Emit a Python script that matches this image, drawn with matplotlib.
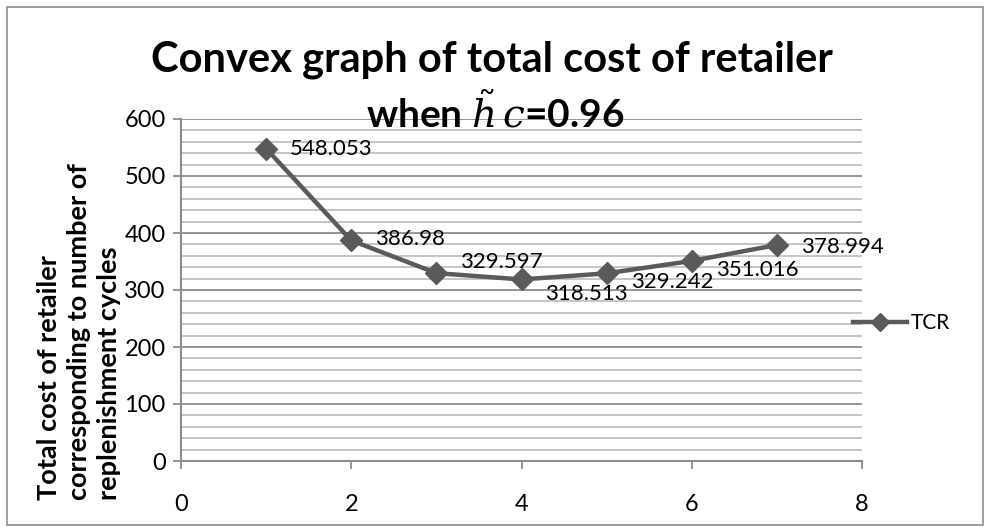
import matplotlib
matplotlib.use("Agg")
import matplotlib.pyplot as plt
from matplotlib.patches import Rectangle
from matplotlib.ticker import MultipleLocator

plt.rcParams['font.family'] = ['Lato', 'DejaVu Sans']
plt.rcParams['mathtext.fontset'] = 'dejavuserif'

cycles = [1, 2, 3, 4, 5, 6, 7]
tcr = [548.053, 386.98, 329.597, 318.513, 329.242, 351.016, 378.994]
labels = ["548.053", "386.98", "329.597", "318.513", "329.242", "351.016", "378.994"]
series_name = "TCR"
title_line1 = "Convex graph of total cost of retailer"
title_line2 = r"when $\tilde{h}\,c$=0.96"
ylabel = "Total cost of retailer\ncorresponding to number of\nreplenishment cycles"

# label offsets in pixels (layout only)
label_offsets = [(24, 0), (24, 1), (24, 11), (24, -15), (24, -9), (24, -9), (24, -2)]

W, H = 985, 527
fig = plt.figure(figsize=(W / 100, H / 100), dpi=100)
fig.patch.set_facecolor('white')
fig.add_artist(Rectangle((7 / W, 2 / H), (W - 9) / W, (H - 9) / H, transform=fig.transFigure,
                         fill=False, edgecolor='#8c8c8c', linewidth=1.2))

ax = fig.add_axes([181 / W, 1 - 461 / H, (862 - 181) / W, (461 - 119) / H])
ax.set_xlim(0, 8)
ax.set_ylim(0, 600)
ax.xaxis.set_major_locator(MultipleLocator(2))
ax.yaxis.set_major_locator(MultipleLocator(100))
ax.yaxis.set_minor_locator(MultipleLocator(20))
ax.grid(which='minor', axis='y', color='#c0c0c0', linewidth=1.3)
ax.grid(which='major', axis='y', color='#8c8c8c', linewidth=1.3)
ax.set_axisbelow(True)
for s in ['top', 'right']:
    ax.spines[s].set_visible(False)
for s in ['left', 'bottom']:
    ax.spines[s].set_color('#8c8c8c')
    ax.spines[s].set_linewidth(1.5)
ax.tick_params(which='major', direction='out', length=6, width=1.3, color='#8c8c8c',
               labelsize=17, labelcolor='black')
ax.tick_params(axis='x', pad=18)
ax.tick_params(axis='y', pad=5)
ax.tick_params(which='minor', length=0)

ax.plot(cycles, tcr, color='#5a5a5a', linewidth=3.2, marker='D', markersize=11,
        markeredgecolor='#5a5a5a', markerfacecolor='#5a5a5a', label=series_name, zorder=3)

for x, y, t, (dx, dy) in zip(cycles, tcr, labels, label_offsets):
    ax.annotate(t, (x, y), xytext=(dx, dy), textcoords='offset pixels',
                ha='left', va='center', fontsize=16, color='black', zorder=4)

fig.text(492 / W, 1 - 60 / H, title_line1, ha='center', va='center',
         fontsize=30, fontweight='bold')
fig.text(495 / W, 1 - 112 / H, title_line2, ha='center', va='center',
         fontsize=28, fontweight='bold')

fig.text(79 / W, 1 - 500 / H, ylabel, rotation=90, ha='center', va='bottom',
         multialignment='left', fontsize=19.5, fontweight='bold', linespacing=1.3)

leg = ax.legend(loc='center left', bbox_to_anchor=(0.975, 0.404), frameon=False,
                fontsize=15, handlelength=2.6, handletextpad=0.15, borderaxespad=0.0,
                markerscale=0.85)

fig.savefig('out.png', dpi=100, facecolor='white')
